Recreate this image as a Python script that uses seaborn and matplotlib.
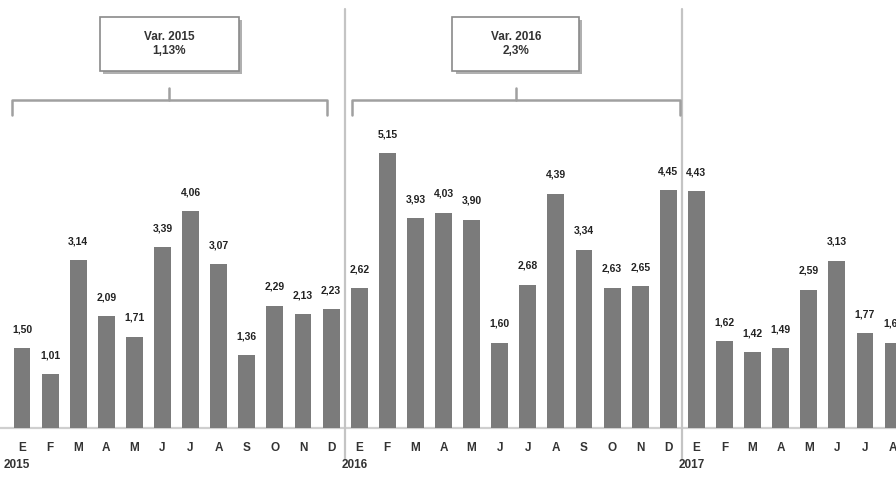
import matplotlib
matplotlib.use("Agg")
import matplotlib.pyplot as plt
import seaborn as sns
import pandas as pd
from matplotlib.patches import Rectangle

# Monthly values, 2015 through Aug 2017
years = ["2015", "2016", "2017"]
months = ["E", "F", "M", "A", "M", "J", "J", "A", "S", "O", "N", "D"]
vals_2015 = [1.50, 1.01, 3.14, 2.09, 1.71, 3.39, 4.06, 3.07, 1.36, 2.29, 2.13, 2.23]
vals_2016 = [2.62, 5.15, 3.93, 4.03, 3.90, 1.60, 2.68, 4.39, 3.34, 2.63, 2.65, 4.45]
vals_2017 = [4.43, 1.62, 1.42, 1.49, 2.59, 3.13, 1.77, 1.60]
var_labels = ["Var. 2015\n1,13%", "Var. 2016\n2,3%"]

series = [vals_2015, vals_2016, vals_2017]
rows = []
for y, vals in zip(years, series):
    for m, v in zip(months, vals):
        rows.append({"year": y, "month": m, "value": v})
df = pd.DataFrame(rows)
df["pos"] = [str(i) for i in range(len(df))]

sns.set_theme(style="white")
plt.rcParams["font.family"] = ["Liberation Sans", "DejaVu Sans"]

fig = plt.figure(figsize=(8.96, 4.78), dpi=100)
ax = fig.add_axes([0, 0, 1, 1])

bar_color = "#7b7b7b"
sns.barplot(data=df, x="pos", y="value", color=bar_color, width=0.6,
            saturation=1, ax=ax)
for p in ax.patches:
    p.set_edgecolor("none")

step = 28.1
ax.set_xlim(-22 / step, (896 - 22) / step)
ax.set_ylim(-50 / 53.4, 428 / 53.4)
ax.axis("off")

# baseline
ax.axhline(0, color="#cfcfcf", lw=1.6, zorder=0)

# value labels with comma decimals
for i, v in enumerate(df["value"]):
    ax.annotate(f"{v:.2f}".replace(".", ","), (i, v), xytext=(0, 10),
                textcoords="offset points", ha="center", va="bottom",
                fontsize=7.5, fontweight="bold", color="#222222")

# month letters and year labels
for i, m in enumerate(df["month"]):
    ax.text(i, -0.37, m, ha="center", va="center", fontsize=8.5,
            fontweight="bold", color="#333333")
starts = df.index[df["month"].eq("E") & ~df["year"].duplicated()].tolist()
for y, s in zip(years, starts):
    ax.text(s - 0.64, -0.70, y, ha="left", va="center", fontsize=8.5,
            fontweight="bold", color="#333333")

# year separators
for s in starts[1:]:
    ax.plot([s - 0.5, s - 0.5], [-0.6, 7.85], color="#c4c4c4", lw=1.6, zorder=0)

# brackets with variation boxes
y_br = (428 - 100) / 53.4
y_end = (428 - 115) / 53.4
y_tick = (428 - 88) / 53.4
spans = [(-0.36, 10.85), (11.74, 23.4)]
box_w = [4.95, 4.5]
for (l, r), label, bw in zip(spans, var_labels, box_w):
    c = (l + r) / 2
    ax.plot([l, l, r, r], [y_end, y_br, y_br, y_end], color="#a0a0a0", lw=1.8,
            solid_joinstyle="round")
    ax.plot([c, c], [y_br, y_tick], color="#a0a0a0", lw=1.8)
    by0 = (428 - 71) / 53.4
    by1 = (428 - 17) / 53.4
    # drop shadow under the box
    ax.add_patch(Rectangle((c - bw / 2 + 0.12, by0 - 0.06), bw, by1 - by0,
                           facecolor="#b0b0b0", edgecolor="none", zorder=3))
    ax.add_patch(Rectangle((c - bw / 2, by0), bw, by1 - by0,
                           facecolor="white", edgecolor="#8a8a8a", lw=1.2, zorder=4))
    ax.text(c, (by0 + by1) / 2, label, ha="center", va="center", fontsize=8.5,
            fontweight="bold", color="#333333", zorder=5, linespacing=1.2)

fig.savefig("out.png", dpi=100)
